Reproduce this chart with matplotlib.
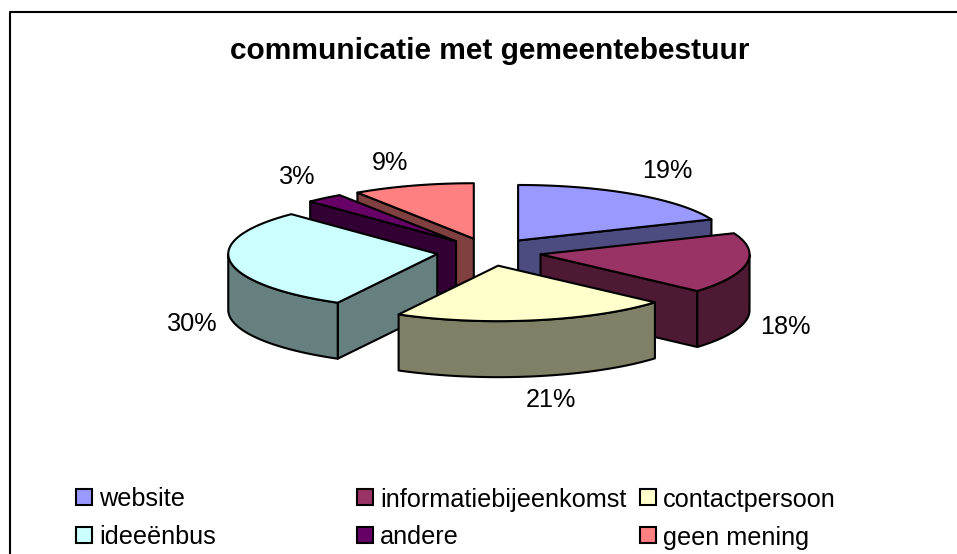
# -*- coding: utf-8 -*-
"""
Exploded 3D style pie chart, drawn by hand since matplotlib's pie is flat
"""
import numpy as np
import matplotlib
matplotlib.use('Agg')
import matplotlib.pyplot as plt
from matplotlib.patches import Polygon, Rectangle

plt.rcParams['font.family'] = ['Liberation Sans', 'DejaVu Sans']

title = 'communicatie met gemeentebestuur'
categories = ['website', 'informatiebijeenkomst', 'contactpersoon',
              'ideeënbus', 'andere', 'geen mening']
# labels are rounded, these are estimated from the slice angles
values = [18.8, 17.7, 21.4, 29.8, 2.9, 9.4]
top_colors = ['#9999FF', '#993366', '#FFFFCC', '#CCFFFF', '#660066', '#FF8080']
side_colors = ['#4C4C80', '#4D1933', '#808066', '#668080', '#330033', '#804040']

# pie geometry in pixels
cx, cy = 489, 252
rx, ry = 209, 55.5
depth = 56
explode = 0.25

label_pos = [(667, 171), (785, 327), (551, 400), (192, 324), (297, 177), (390, 163)]
legend_x = [76, 357, 640]
legend_y = [497, 535]

W, H = 957, 554
fig = plt.figure(figsize=(W / 100, H / 100), dpi=100)
ax = fig.add_axes([0, 0, 1, 1])
ax.set_xlim(0, W)
ax.set_ylim(H, 0)
ax.axis('off')

# chart frame, bottom and right run off the picture
ax.plot([9.5, 9.5, W + 5], [H + 5, 11.5, 11.5], color='black', lw=1.5, zorder=1)

ax.text(490, 51, title, fontsize=21.5, fontweight='bold', ha='center', va='center')


def rim(t, ox, oy):
    # t in radians, clockwise from the top of the ellipse
    return ox + rx * np.sin(t), oy - ry * np.cos(t)


edges = np.radians(np.concatenate([[0], np.cumsum(values)]) * 3.6)
mids = (edges[:-1] + edges[1:]) / 2

# back slices first
z = 2
for i in np.argsort(-np.cos(mids)):
    t0, t1 = edges[i], edges[i + 1]
    ox = cx + explode * rx * np.sin(mids[i])
    oy = cy - explode * ry * np.cos(mids[i])
    t = np.linspace(t0, t1, 80)
    x, y = rim(t, ox, oy)

    # radial walls, skip the ones turned away from the viewer
    for k, show in [(0, np.sin(t0) < -1e-6), (-1, np.sin(t1) > 1e-6)]:
        if not show:
            continue
        wall = [(ox, oy), (x[k], y[k]), (x[k], y[k] + depth), (ox, oy + depth)]
        ax.add_patch(Polygon(wall, closed=True, fc=side_colors[i], ec='black',
                             lw=1.5, joinstyle='round', zorder=z))
        z += 1

    # outer wall, only the front half of the rim shows
    front = (t >= np.pi / 2) & (t <= 3 * np.pi / 2)
    if front.any():
        fx, fy = x[front], y[front]
        outer = np.vstack([np.column_stack([fx, fy]),
                           np.column_stack([fx[::-1], fy[::-1] + depth])])
        ax.add_patch(Polygon(outer, closed=True, fc=side_colors[i], ec='black',
                             lw=1.5, joinstyle='round', zorder=z))
        z += 1

    # top face
    top = np.vstack([[(ox, oy)], np.column_stack([x, y])])
    ax.add_patch(Polygon(top, closed=True, fc=top_colors[i], ec='black',
                         lw=1.5, joinstyle='round', zorder=z))
    z += 1

for v, (lx, ly) in zip(values, label_pos):
    ax.text(lx, ly, '%.0f%%' % v, fontsize=18.2, ha='center', va='center', zorder=z)

# legend, three columns
for i, name in enumerate(categories):
    lx = legend_x[i % 3]
    ly = legend_y[i // 3]
    ax.add_patch(Rectangle((lx, ly - 8), 16, 16, fc=top_colors[i], ec='black', lw=1.5, zorder=z))
    ax.text(lx + 23, ly, name, fontsize=18.2, ha='left', va='center_baseline', zorder=z)

fig.savefig('out.png', dpi=100)
